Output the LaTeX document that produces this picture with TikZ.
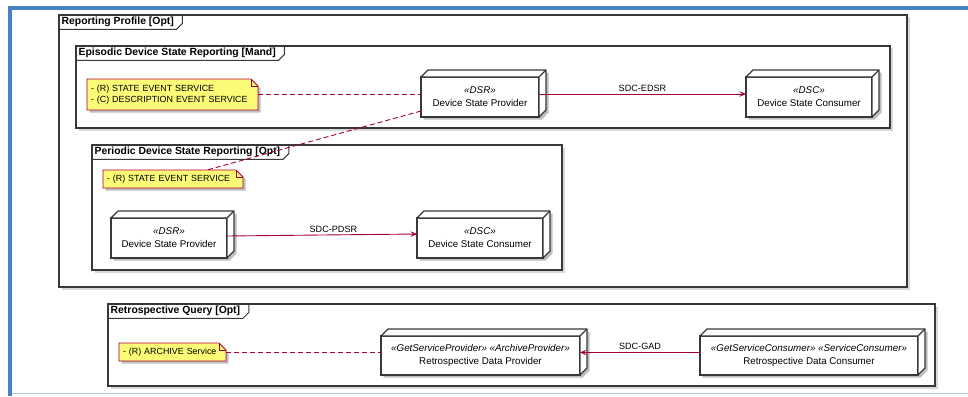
\documentclass[tikz,border=0pt]{standalone}
\usepackage{fontspec}
\setmainfont{Liberation Sans}
\usetikzlibrary{shadows,calc,arrows.meta,positioning}
\definecolor{bluebar}{HTML}{4A80C4}
\definecolor{bluefaint}{HTML}{B4C9E3}
\definecolor{notefill}{HTML}{FBFB77}
\definecolor{plred}{HTML}{A80036}
\definecolor{edgec}{HTML}{383838}
\pgfdeclarelayer{framelayer}
\pgfdeclarelayer{notelayer}
\pgfsetlayers{framelayer,notelayer,main}
\tikzset{
  frbox/.style={draw=edgec, line width=1.3pt, fill=white, inner sep=0pt, outer sep=0pt,
    drop shadow={shadow xshift=2.5pt, shadow yshift=-2.5pt, opacity=0.3}},
  frtitle/.style={anchor=north west, inner xsep=2.5pt, inner ysep=0pt, minimum height=14pt,
    font=\fontsize{10.4}{12}\selectfont\bfseries},
  tabline/.style={draw=edgec, line width=1pt},
  devbox/.style={draw=edgec, line width=1.3pt, fill=white, align=center, inner sep=0pt,
    outer sep=0pt, font=\fontsize{9.8}{13}\selectfont},
  devline/.style={draw=edgec, line width=1.3pt, fill=white, line join=round},
  shadowc/.style={fill=black, opacity=0.25},
  noteshape/.style={draw=plred, line width=0.9pt, fill=notefill},
  notetext/.style={inner xsep=4pt, inner ysep=0pt, outer sep=0pt, align=left,
    font=\fontsize{8.9}{11}\selectfont},
  link/.style={draw=plred, line width=0.9pt, -{Stealth[length=6.5pt,width=5.5pt,inset=2.5pt]}},
  dashlink/.style={draw=plred, line width=0.9pt, dash pattern=on 5pt off 3pt},
  lbl/.style={inner sep=0pt, font=\fontsize{9.1}{11}\selectfont, text=black}
}
% frame: name, x, y, w, h, title
\newcommand{\frameblock}[6]{%
  \begin{pgfonlayer}{framelayer}
    \node[frbox, minimum width=#4, minimum height=#5, anchor=north west] (#1) at (#2,#3) {};
  \end{pgfonlayer}
  \node[frtitle] (#1t) at (#1.north west) {#6};
  \draw[tabline] (#1t.south west) -- (#1t.south east) -- ++(6,-6) -- ($(#1t.north east)+(6,0)$);
}
% note: name, x, y, w, h, text
\newcommand{\noteblock}[6]{%
  \begin{pgfonlayer}{notelayer}
    \fill[shadowc] (#2+2.5,#3+2.5) -- (#2+#4-7+2.5,#3+2.5) -- (#2+#4+2.5,#3+7+2.5)
       -- (#2+#4+2.5,#3+#5+2.5) -- (#2+2.5,#3+#5+2.5) -- cycle;
    \draw[noteshape] (#2,#3) -- (#2+#4-7,#3) -- (#2+#4,#3+7) -- (#2+#4,#3+#5) -- (#2,#3+#5) -- cycle;
    \draw[noteshape, fill=none] (#2+#4-7,#3) -- (#2+#4-7,#3+7) -- (#2+#4,#3+7);
  \end{pgfonlayer}
  \node[notetext, text width=#4pt-8pt, minimum height=#5, anchor=north west] (#1) at (#2,#3) {#6};
}
% device: name, x, y, w, h, stereotype, label
\newcommand{\deviceblock}[7]{%
  \fill[shadowc] (#2+2.5,#3+2.5) -- (#2+7+2.5,#3-7+2.5) -- (#2+#4+7+2.5,#3-7+2.5)
     -- (#2+#4+7+2.5,#3+#5-7+2.5) -- (#2+#4+2.5,#3+#5+2.5) -- (#2+2.5,#3+#5+2.5) -- cycle;
  \node[devbox, minimum width=#4, minimum height=#5, anchor=north west] (#1) at (#2,#3)
     {\textit{#6}\\#7};
  \draw[devline] (#1.north west) -- ++(7,-7) -- ($(#1.north east)+(7,-7)$)
     -- ($(#1.south east)+(7,-7)$) -- (#1.south east) -- (#1.north east) -- cycle;
  \draw[devline] (#1.north east) -- ++(7,-7);
}
\begin{document}
\begin{tikzpicture}[x=1pt,y=-1pt]
  \useasboundingbox (0,0) rectangle (968,396);
  \begin{pgfonlayer}{framelayer}
    \fill[white] (0,0) rectangle (968,396);
    \draw[bluefaint, line width=1pt] (12,393.5) -- (968,393.5);
    \draw[bluebar, line width=4pt] (10,396) -- (10,8) -- (968,8);
  \end{pgfonlayer}

  \frameblock{rep}{59}{15}{848}{272}{Reporting Profile [Opt]}
  \frameblock{epi}{76}{46}{814}{82}{Episodic Device State Reporting [Mand]}
  \frameblock{per}{92}{145}{470}{125}{Periodic Device State Reporting [Opt]}
  \frameblock{ret}{108}{304}{827}{82}{Retrospective Query [Opt]}

  \noteblock{n1}{87}{79}{171}{31}{- (R) STATE EVENT SERVICE\\- (C) DESCRIPTION EVENT SERVICE}
  \noteblock{n2}{103}{170}{140}{18}{- (R) STATE EVENT SERVICE}
  \noteblock{n3}{119}{343}{107}{18}{- (R) ARCHIVE Service}

  \deviceblock{dsr1}{421}{77}{118}{40}{«DSR»}{Device State Provider}
  \deviceblock{dsc1}{746}{77}{126}{40}{«DSC»}{Device State Consumer}
  \deviceblock{dsr2}{111}{218}{116}{40}{«DSR»}{Device State Provider}
  \deviceblock{dsc2}{417}{218}{126}{40}{«DSC»}{Device State Consumer}
  \deviceblock{prov}{381}{336}{199}{39}{«GetServiceProvider» «ArchiveProvider»}{Retrospective Data Provider}
  \deviceblock{cons}{700}{336}{218}{39}{«GetServiceConsumer» «ServiceConsumer»}{Retrospective Data Consumer}

  \draw[dashlink] (n1.east) -- (n1.east -| dsr1.west);
  \draw[link] ($(dsr1.east)+(0,-3)$) -- node[lbl, above=2pt] {SDC-EDSR} ($(dsc1.west)+(0,-3)$);
  \draw[dashlink] ($(dsr1.south west)+(0,-6)$) -- ($(n2.north west)+(104,0)$);
  \draw[link] ($(dsr2.east)+(0,-2)$) -- node[lbl, above=2pt, pos=0.56] {SDC-PDSR} ($(dsc2.west)+(0,-4)$);
  \draw[dashlink] (n3.east) -- (n3.east -| prov.west);
  \draw[link] ($(cons.west)+(0,-3)$) -- node[lbl, above=2pt] {SDC-GAD} ($(prov.east)+(0,-3)$);
\end{tikzpicture}
\end{document}
